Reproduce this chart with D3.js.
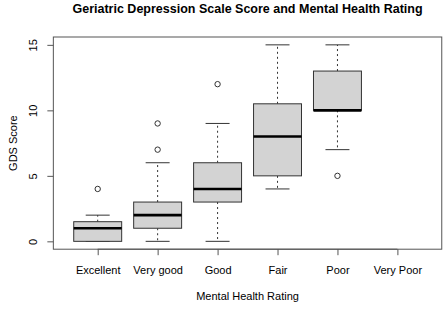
<!DOCTYPE html>
<html>
<head>
<meta charset="utf-8">
<script src="https://cdn.jsdelivr.net/npm/d3@7"></script>
<style>
  body { margin: 0; background: #fff; }
  text { font-family: "Liberation Sans", Arial, Helvetica, sans-serif; fill: #000; }
</style>
</head>
<body>
<div id="chart"></div>
<script>
var width = 447;
var height = 310;

// data
var categories = ['Excellent', 'Very good', 'Good', 'Fair', 'Poor', 'Very Poor'];
var whiskerLow = [0, 0, 0, 4, 7, null];
var q1 = [0, 1, 3, 5, 10, null];
var medians = [1, 2, 4, 8, 10, null];
var q3 = [1.5, 3, 6, 10.5, 13, null];
var whiskerHigh = [2, 6, 9, 15, 15, null];
var outliers = [[4], [7, 9], [12], [], [5], []];
var yTicks = [0, 5, 10, 15];

var boxes = categories.map(function (c, i) {
  return {
    cat: c, lo: whiskerLow[i], q1: q1[i], med: medians[i],
    q3: q3[i], hi: whiskerHigh[i], out: outliers[i]
  };
}).filter(function (d) { return d.med !== null; });

var svg = d3.select('#chart')
  .append('svg')
  .attr('width', width)
  .attr('height', height);

// R style: categories at 1..6, plot range extended 4% beyond 0.5..6.5
var x = d3.scalePoint()
  .domain(categories)
  .range([97.7, 397.4]);
var step = x.step();
var left = x(categories[0]) - 0.74 * step;
var right = x(categories[categories.length - 1]) + 0.74 * step;

var y = d3.scaleLinear()
  .domain([-0.6, 15.6])
  .range([249.2, 37]);

var boxW = 0.8 * step;
var capW = boxW / 2;
var lineCol = '#333';

// boxes
var g = svg.selectAll('g.box')
  .data(boxes)
  .enter()
  .append('g')
  .attr('class', 'box')
  .attr('transform', function (d) { return 'translate(' + x(d.cat) + ',0)'; });

// whiskers (dashed)
g.append('line')
  .attr('x1', 0).attr('x2', 0)
  .attr('y1', function (d) { return y(d.q3); })
  .attr('y2', function (d) { return y(d.hi); })
  .attr('stroke', lineCol)
  .attr('stroke-dasharray', '2,3');
g.append('line')
  .attr('x1', 0).attr('x2', 0)
  .attr('y1', function (d) { return y(d.q1); })
  .attr('y2', function (d) { return y(d.lo); })
  .attr('stroke', lineCol)
  .attr('stroke-dasharray', '2,3');

// staples
g.selectAll('line.cap')
  .data(function (d) { return [d.lo, d.hi]; })
  .enter()
  .append('line')
  .attr('class', 'cap')
  .attr('x1', -capW / 2).attr('x2', capW / 2)
  .attr('y1', function (v) { return y(v); })
  .attr('y2', function (v) { return y(v); })
  .attr('stroke', lineCol);

g.append('rect')
  .attr('x', -boxW / 2)
  .attr('width', boxW)
  .attr('y', function (d) { return y(d.q3); })
  .attr('height', function (d) { return y(d.q1) - y(d.q3); })
  .attr('fill', '#d3d3d3')
  .attr('stroke', lineCol);

// median
g.append('line')
  .attr('x1', -boxW / 2).attr('x2', boxW / 2)
  .attr('y1', function (d) { return y(d.med); })
  .attr('y2', function (d) { return y(d.med); })
  .attr('stroke', '#000')
  .attr('stroke-width', 2.6);

// outliers
g.selectAll('circle')
  .data(function (d) { return d.out; })
  .enter()
  .append('circle')
  .attr('cx', 0)
  .attr('cy', function (v) { return y(v); })
  .attr('r', 2.7)
  .attr('fill', 'none')
  .attr('stroke', lineCol);

// frame
svg.append('rect')
  .attr('x', left)
  .attr('y', y.range()[1])
  .attr('width', right - left)
  .attr('height', y.range()[0] - y.range()[1])
  .attr('fill', 'none')
  .attr('stroke', '#555');

// y axis
var yAxis = svg.append('g')
  .attr('transform', 'translate(' + left + ',0)')
  .call(d3.axisLeft(y).tickValues(yTicks).tickSize(6).tickFormat(d3.format('d')));
yAxis.select('.domain').remove();
yAxis.selectAll('line').attr('stroke', '#555');
yAxis.selectAll('text')
  .attr('transform', 'rotate(-90)')
  .attr('x', 0)
  .attr('y', -16.5)
  .attr('dy', null)
  .attr('text-anchor', 'middle')
  .style('font-size', '11px')
  .style('font-family', '"Liberation Sans", Arial, sans-serif');

// x axis
var xAxis = svg.append('g')
  .attr('transform', 'translate(0,' + y.range()[0] + ')')
  .call(d3.axisBottom(x).tickSize(6));
xAxis.select('.domain')
  .attr('d', 'M' + x(categories[0]) + ',0H' + x(categories[categories.length - 1]))
  .attr('stroke', '#555');
xAxis.selectAll('line').attr('stroke', '#555');
xAxis.selectAll('text')
  .attr('y', 24.5)
  .attr('dy', null)
  .style('font-size', '11px')
  .style('font-family', '"Liberation Sans", Arial, sans-serif');

// titles
svg.append('text')
  .attr('x', (left + right) / 2)
  .attr('y', 13)
  .attr('text-anchor', 'middle')
  .style('font-size', '12.5px')
  .style('font-weight', 'bold')
  .text('Geriatric Depression Scale Score and Mental Health Rating');

svg.append('text')
  .attr('x', (left + right) / 2)
  .attr('y', 300)
  .attr('text-anchor', 'middle')
  .style('font-size', '11px')
  .text('Mental Health Rating');

svg.append('text')
  .attr('transform', 'translate(16.5,' + (y.range()[0] + y.range()[1]) / 2 + ') rotate(-90)')
  .attr('text-anchor', 'middle')
  .style('font-size', '11px')
  .text('GDS Score');
</script>
</body>
</html>
